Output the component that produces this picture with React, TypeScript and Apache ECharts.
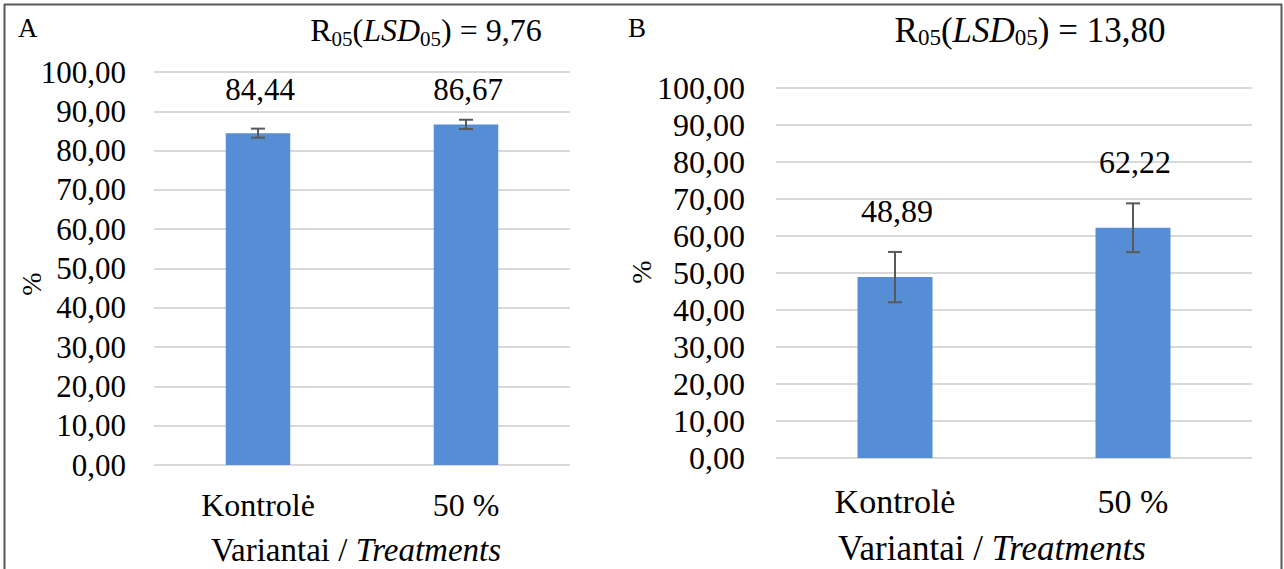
import React, { useEffect, useRef } from "react";
import * as echarts from "echarts";

const categories = ["Kontrolė", "50 %"];
const valuesA = [84.44, 86.67];
const errorsA = [1.15, 1.18];
const valuesB = [48.89, 62.22];
const errorsB = [6.8, 6.6];
const lsdA = "9,76";
const lsdB = "13,80";
const yMin = 0;
const yMax = 100;
const yStep = 10;

const FONT = "Liberation Serif";
const fmt = (v: number) => v.toFixed(2).replace(".", ",");

export default function App() {
  const ref = useRef<HTMLDivElement>(null);
  useEffect(() => {
    if (!ref.current) return;
    const chart = echarts.init(ref.current, null, { renderer: "svg" });

    const errItem = (size: number) => (params: any, api: any) => {
      const x = api.value(0);
      const v = api.value(1);
      const e = api.value(2);
      const top = api.coord([x, v + e]);
      const bot = api.coord([x, v - e]);
      const cap = 7;
      const cs = params.coordSys;
      const ly = Math.max(top[1] - 41, cs.y + 17);
      const st = { stroke: "#595959", lineWidth: 2 };
      return {
        type: "group",
        children: [
          { type: "line", shape: { x1: top[0], y1: top[1], x2: bot[0], y2: bot[1] }, style: st },
          { type: "line", shape: { x1: top[0] - cap, y1: top[1], x2: top[0] + cap, y2: top[1] }, style: st },
          { type: "line", shape: { x1: bot[0] - cap, y1: bot[1], x2: bot[0] + cap, y2: bot[1] }, style: st },
          {
            type: "text",
            x: top[0] + 2,
            y: ly,
            style: {
              text: fmt(v),
              fill: "#000",
              fontSize: size,
              fontFamily: FONT,
              align: "center",
              verticalAlign: "middle",
            },
          },
        ],
      };
    };

    const yAxis = (idx: number) => ({
      type: "value",
      gridIndex: idx,
      min: yMin,
      max: yMax,
      interval: yStep,
      axisLine: { show: false },
      axisTick: { show: false },
      splitLine: { lineStyle: { color: "#d9d9d9", width: 2 } },
      axisLabel: {
        formatter: (v: number) => fmt(v),
        color: "#000",
        fontSize: idx === 0 ? 31 : 32,
        fontFamily: FONT,
        margin: idx === 0 ? 28 : 31,
      },
    });
    const xAxis = (idx: number) => ({
      type: "category",
      gridIndex: idx,
      data: categories,
      axisLine: { show: false },
      axisTick: { show: false },
      axisLabel: {
        color: "#000",
        fontSize: idx === 0 ? 32 : 34,
        fontFamily: FONT,
        margin: idx === 0 ? 24 : 26,
      },
    });

    const title = (x: number, lsd: string, size: number) => ({
      type: "text",
      x,
      y: 30,
      style: {
        text: `{r|R}{s|05}{r|(}{i|LSD}{s|05}{r|) = ${lsd}}`,
        rich: {
          r: { fontSize: size, fontFamily: FONT, lineHeight: 38, verticalAlign: "middle" },
          i: { fontSize: size, fontFamily: FONT, fontStyle: "italic", lineHeight: 38, verticalAlign: "middle" },
          s: { fontSize: Math.round(size * 0.65), fontFamily: FONT, lineHeight: 38, verticalAlign: "bottom" },
        },
        fill: "#000",
        align: "center",
        verticalAlign: "middle",
      },
    });
    const axisName = (x: number, y: number, size: number) => ({
      type: "text",
      x,
      y,
      style: {
        text: "{n|Variantai / }{i|Treatments}",
        rich: {
          n: { fontSize: size, fontFamily: FONT },
          i: { fontSize: size, fontFamily: FONT, fontStyle: "italic" },
        },
        fill: "#000",
        align: "center",
        verticalAlign: "middle",
      },
    });
    const pct = (x: number, y: number) => ({
      type: "text",
      x,
      y,
      rotation: Math.PI / 2,
      style: {
        text: "%",
        fill: "#000",
        fontSize: 28,
        fontFamily: FONT,
        align: "center",
        verticalAlign: "middle",
      },
    });
    const border = { stroke: "#595959", lineWidth: 2 };

    chart.setOption({
      animation: false,
      backgroundColor: "#fff",
      textStyle: { fontFamily: FONT },
      grid: [
        { left: 154, right: 714, top: 72, bottom: 104 },
        { left: 776, right: 32, top: 88, bottom: 111 },
      ],
      xAxis: [xAxis(0), xAxis(1)],
      yAxis: [yAxis(0), yAxis(1)],
      series: [
        {
          type: "bar",
          xAxisIndex: 0,
          yAxisIndex: 0,
          data: valuesA,
          barWidth: "31%",
          itemStyle: { color: "#558ed5" },
        },
        {
          type: "custom",
          xAxisIndex: 0,
          yAxisIndex: 0,
          data: valuesA.map((v, i) => [i, v, errorsA[i]]),
          renderItem: errItem(31),
          z: 5,
        },
        {
          type: "bar",
          xAxisIndex: 1,
          yAxisIndex: 1,
          data: valuesB,
          barWidth: "31.5%",
          itemStyle: { color: "#558ed5" },
        },
        {
          type: "custom",
          xAxisIndex: 1,
          yAxisIndex: 1,
          data: valuesB.map((v, i) => [i, v, errorsB[i]]),
          renderItem: errItem(32),
          z: 5,
        },
      ],
      graphic: [
        { type: "line", shape: { x1: 4, y1: 4.5, x2: 1282, y2: 4.5 }, style: border },
        { type: "line", shape: { x1: 4.5, y1: 4, x2: 4.5, y2: 569 }, style: border },
        { type: "line", shape: { x1: 1281.5, y1: 4, x2: 1281.5, y2: 569 }, style: border },
        {
          type: "text",
          x: 18,
          y: 14,
          style: { text: "A", fill: "#000", fontSize: 27, fontFamily: FONT },
        },
        {
          type: "text",
          x: 628,
          y: 14,
          style: { text: "B", fill: "#000", fontSize: 27, fontFamily: FONT },
        },
        title(426, lsdA, 32),
        title(1030, lsdB, 35),
        axisName(356, 550, 33),
        axisName(992, 548, 35),
        pct(31, 284),
        pct(641, 272),
      ],
    });
    return () => chart.dispose();
  }, []);
  return (
    <div
      ref={ref}
      style={{ position: "fixed", left: 0, top: 0, width: 1284, height: 569 }}
    />
  );
}
